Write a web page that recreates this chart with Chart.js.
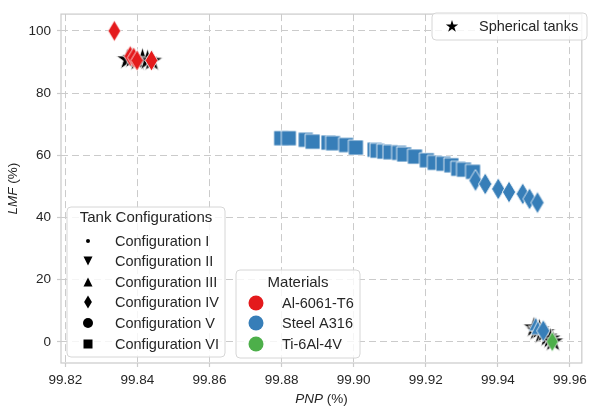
<!DOCTYPE html>
<html>
<head>
<meta charset="utf-8">
<script src="https://cdn.jsdelivr.net/npm/chart.js@4.4.1/dist/chart.umd.min.js"></script>
<style>
  html, body { margin: 0; padding: 0; background: #fff; }
</style>
</head>
<body>
<canvas id="lmfChart" width="592" height="406"></canvas>
<script>
const xTicks = [99.82, 99.84, 99.86, 99.88, 99.90, 99.92, 99.94, 99.96];
const yTicks = [0, 20, 40, 60, 80, 100];

// spherical tanks (black stars)
const sphPnp = [99.8372, 99.8386, 99.8400, 99.8414, 99.8428, 99.8440, 99.9500, 99.9508, 99.9515, 99.9522, 99.9530, 99.9538, 99.9546, 99.9553];
const sphLmf = [90.8, 91.2, 90.4, 91.0, 90.6, 90.3, 4.6, 3.6, 4.0, 2.6, 3.0, 1.6, 1.0, 0.1];

// Al-6061-T6, configuration IV
const alDiamondPnp = [99.8336, 99.8380, 99.8390, 99.8399, 99.8439];
const alDiamondLmf = [100.0, 91.9, 91.4, 90.5, 90.5];

// Steel A316, configuration VI
const stSquarePnp = [99.8799, 99.8820, 99.8867, 99.8886, 99.8930, 99.8943, 99.8979, 99.9006, 99.9058, 99.9066, 99.9085,
  99.9102, 99.9126, 99.9140, 99.9170, 99.9203, 99.9225, 99.9249, 99.9271, 99.9290, 99.9306, 99.9331];
const stSquareLmf = [65.5, 65.5, 65.0, 64.4, 64.1, 63.9, 63.3, 62.5, 61.8, 61.5, 61.2,
  61.0, 60.8, 60.3, 59.6, 58.4, 57.6, 57.3, 56.8, 55.7, 55.4, 54.7];

// Steel A316, configuration IV
const stDiamondPnp = [99.9338, 99.9365, 99.9401, 99.9431, 99.9469, 99.9488, 99.9510, 99.9526];
const stDiamondLmf = [51.9, 50.8, 49.2, 48.2, 47.6, 46.0, 44.8, 3.6];

// Steel A316, configuration III
const stTriPnp = [99.9505, 99.9511];
const stTriLmf = [5.8, 4.6];

// Ti-6Al-4V, configuration IV
const tiDiamondPnp = [99.9551];
const tiDiamondLmf = [0.1];

const configLabels = ['Configuration I', 'Configuration II', 'Configuration III', 'Configuration IV', 'Configuration V', 'Configuration VI'];
const configShapes = ['dot', 'triDown', 'triUp', 'diamond', 'circle', 'square'];
const materialLabels = ['Al-6061-T6', 'Steel A316', 'Ti-6Al-4V'];
const materialColors = ['#e41a1c', '#377eb8', '#4daf4a'];

const FONT = "'Liberation Sans', Arial, Helvetica, sans-serif";
const TEXT = '#262626';

function shapePath(ctx, shape, x, y, s) {
  ctx.beginPath();
  if (shape === 'circle' || shape === 'dot') {
    ctx.arc(x, y, s / 2, 0, Math.PI * 2);
  } else if (shape === 'square') {
    ctx.rect(x - s / 2, y - s / 2, s, s);
  } else if (shape === 'triUp') {
    ctx.moveTo(x, y - s / 2); ctx.lineTo(x + s / 2, y + s / 2); ctx.lineTo(x - s / 2, y + s / 2);
  } else if (shape === 'triDown') {
    ctx.moveTo(x, y + s / 2); ctx.lineTo(x + s / 2, y - s / 2); ctx.lineTo(x - s / 2, y - s / 2);
  } else if (shape === 'diamond') {
    ctx.moveTo(x, y - s / 2); ctx.lineTo(x + s * 0.3, y); ctx.lineTo(x, y + s / 2); ctx.lineTo(x - s * 0.3, y);
  } else if (shape === 'star') {
    const r = s / 2, ri = r * 0.382;
    for (let i = 0; i < 10; i++) {
      const rr = i % 2 ? ri : r;
      const a = -Math.PI / 2 + i * Math.PI / 5;
      const px = x + rr * Math.cos(a), py = y + rr * Math.sin(a);
      if (i === 0) ctx.moveTo(px, py); else ctx.lineTo(px, py);
    }
  }
  ctx.closePath();
}

function drawShape(ctx, shape, x, y, s, fill, stroke, lw) {
  shapePath(ctx, shape, x, y, s);
  ctx.fillStyle = fill;
  ctx.fill();
  if (stroke) {
    ctx.lineWidth = lw;
    ctx.strokeStyle = stroke;
    ctx.stroke();
  }
}

function marker(shape, size, color) {
  const c = document.createElement('canvas');
  const d = Math.ceil(size + 4);
  c.width = d; c.height = d;
  drawShape(c.getContext('2d'), shape, d / 2, d / 2, size, color, '#ffffff', 0.8);
  return c;
}

function points(xs, ys) {
  return xs.map((v, i) => ({ x: v, y: ys[i] }));
}

function series(label, xs, ys, style, order) {
  return {
    label: label,
    data: points(xs, ys),
    pointStyle: style,
    pointRadius: 7,
    order: order
  };
}

function mixedText(ctx, parts, cx, cy) {
  let total = 0;
  parts.forEach(p => { ctx.font = p.font; p.w = ctx.measureText(p.t).width; total += p.w; });
  let x = cx - total / 2;
  ctx.textAlign = 'left';
  ctx.textBaseline = 'middle';
  parts.forEach(p => { ctx.font = p.font; ctx.fillText(p.t, x, cy); x += p.w; });
}

function legendBox(ctx, x, y, w, h) {
  const r = 4;
  ctx.beginPath();
  ctx.moveTo(x + r, y);
  ctx.arcTo(x + w, y, x + w, y + h, r);
  ctx.arcTo(x + w, y + h, x, y + h, r);
  ctx.arcTo(x, y + h, x, y, r);
  ctx.arcTo(x, y, x + w, y, r);
  ctx.closePath();
  ctx.fillStyle = 'rgba(255,255,255,0.8)';
  ctx.fill();
  ctx.lineWidth = 1;
  ctx.strokeStyle = '#d6d6d6';
  ctx.stroke();
}

const decorations = {
  id: 'decorations',
  afterDraw(chart) {
    const { ctx, chartArea: a } = chart;
    ctx.save();
    // frame
    ctx.strokeStyle = '#cccccc';
    ctx.lineWidth = 1.25;
    ctx.strokeRect(a.left, a.top, a.right - a.left, a.bottom - a.top);

    // axis titles
    ctx.fillStyle = TEXT;
    mixedText(ctx, [{ t: 'PNP', font: 'italic 13.5px ' + FONT }, { t: ' (%)', font: '13.5px ' + FONT }], (a.left + a.right) / 2, 399);
    ctx.save();
    ctx.translate(13, (a.top + a.bottom) / 2);
    ctx.rotate(-Math.PI / 2);
    mixedText(ctx, [{ t: 'LMF', font: 'italic 13.5px ' + FONT }, { t: ' (%)', font: '13.5px ' + FONT }], 0, 0);
    ctx.restore();

    // spherical tanks legend
    legendBox(ctx, 432, 13, 155, 27);
    drawShape(ctx, 'star', 452, 26.5, 13, '#000000');
    ctx.fillStyle = TEXT;
    ctx.font = '14.5px ' + FONT;
    ctx.textAlign = 'left';
    ctx.textBaseline = 'middle';
    ctx.fillText('Spherical tanks', 479, 27);

    // tank configurations legend
    legendBox(ctx, 67, 207, 158, 150);
    ctx.fillStyle = TEXT;
    ctx.font = '15px ' + FONT;
    ctx.textAlign = 'center';
    ctx.fillText('Tank Configurations', 146, 218);
    const cfgY = [241, 261, 282, 302, 323, 344];
    const cfgSize = { dot: 4, triDown: 9, triUp: 9, diamond: 13, circle: 10, square: 9 };
    configLabels.forEach((lab, i) => {
      const sh = configShapes[i];
      drawShape(ctx, sh, 88, cfgY[i], cfgSize[sh], '#000000');
      ctx.fillStyle = TEXT;
      ctx.font = '14.5px ' + FONT;
      ctx.textAlign = 'left';
      ctx.fillText(lab, 115, cfgY[i] + 0.5);
    });

    // materials legend
    legendBox(ctx, 236, 270, 124, 88);
    ctx.fillStyle = TEXT;
    ctx.font = '15px ' + FONT;
    ctx.textAlign = 'center';
    ctx.fillText('Materials', 298, 283);
    const matY = [303, 323, 344];
    materialLabels.forEach((lab, i) => {
      drawShape(ctx, 'circle', 256, matY[i], 15, materialColors[i]);
      ctx.fillStyle = TEXT;
      ctx.font = '14.5px ' + FONT;
      ctx.textAlign = 'left';
      ctx.fillText(lab, 282, matY[i] + 0.5);
    });
    ctx.restore();
  }
};

const gridOpts = {
  color: '#cbcbcb',
  lineWidth: 1,
  tickLength: 4,
  tickColor: '#cccccc',
  tickWidth: 1.2
};

const ctx = document.getElementById('lmfChart');
const lmfChart = new Chart(ctx, {
  type: 'scatter',
  data: {
    datasets: [
      series('Ti-6Al-4V IV', tiDiamondPnp, tiDiamondLmf, marker('diamond', 20, materialColors[2]), 0),
      series('Steel A316 IV', stDiamondPnp, stDiamondLmf, marker('diamond', 22, materialColors[1]), 1),
      series('Steel A316 III', stTriPnp, stTriLmf, marker('triUp', 14, materialColors[1]), 2),
      series('Steel A316 VI', stSquarePnp, stSquareLmf, marker('square', 15, materialColors[1]), 3),
      series('Al-6061-T6 IV', alDiamondPnp, alDiamondLmf, marker('diamond', 21, materialColors[0]), 4),
      series('Spherical tanks', sphPnp, sphLmf, marker('star', 23, '#000000'), 5)
    ]
  },
  options: {
    responsive: false,
    animation: false,
    devicePixelRatio: 1,
    layout: { padding: { top: 6, right: 2, left: 0, bottom: 0 } },
    plugins: {
      legend: { display: false },
      tooltip: { enabled: false }
    },
    scales: {
      x: {
        type: 'linear',
        min: 99.8188,
        max: 99.9633,
        afterBuildTicks: (scale) => { scale.ticks = xTicks.map(v => ({ value: v })); },
        afterFit: (scale) => { scale.height = 43; },
        ticks: {
          callback: (v) => Number(v).toFixed(2),
          font: { size: 13.5, family: FONT },
          color: TEXT,
          padding: 5,
          maxRotation: 0,
          autoSkip: false
        },
        grid: gridOpts,
        border: { display: false, dash: [7, 4] }
      },
      y: {
        type: 'linear',
        min: -6.76,
        max: 105.4,
        afterBuildTicks: (scale) => { scale.ticks = yTicks.map(v => ({ value: v })); },
        afterFit: (scale) => { scale.width = 61; },
        ticks: {
          callback: (v) => String(v),
          font: { size: 13.5, family: FONT },
          color: TEXT,
          padding: 6
        },
        grid: gridOpts,
        border: { display: false, dash: [7, 4] }
      }
    }
  },
  plugins: [decorations]
});
</script>
</body>
</html>
